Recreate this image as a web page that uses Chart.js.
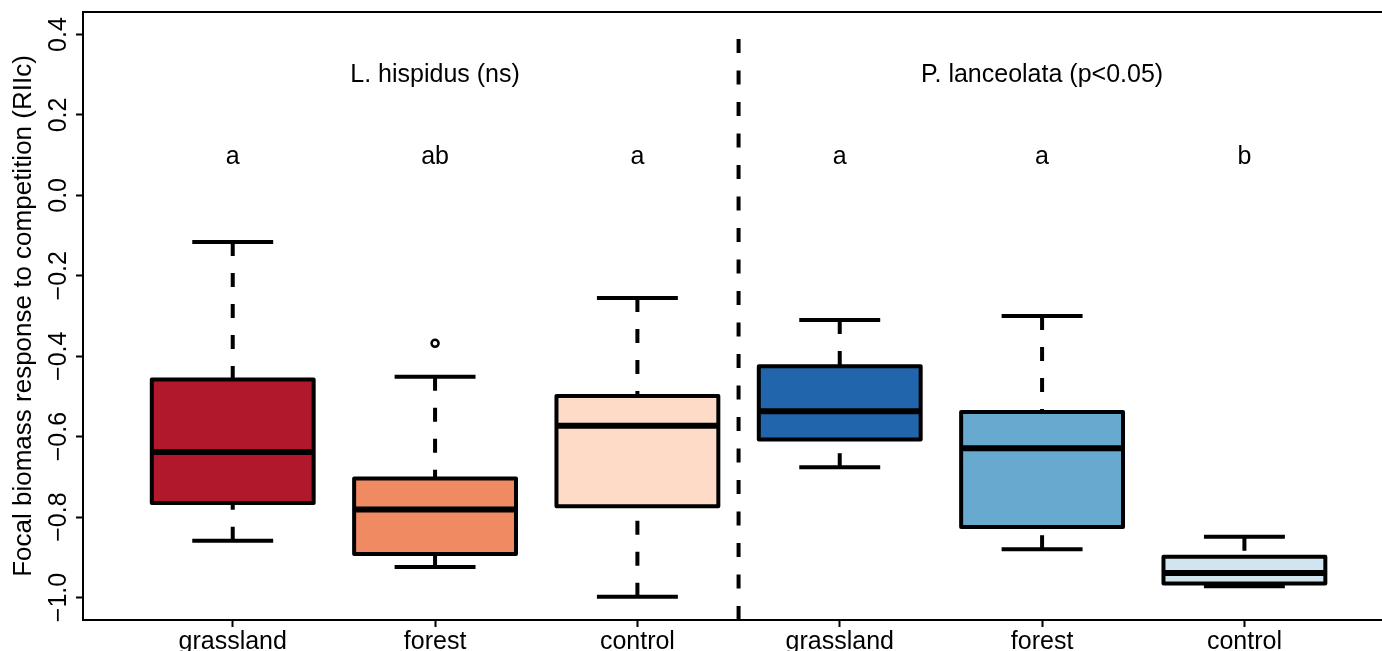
<!DOCTYPE html>
<html>
<head>
<meta charset="utf-8">
<script src="https://cdn.jsdelivr.net/npm/chart.js@4.4.1/dist/chart.umd.min.js"></script>
<style>
  html, body { margin: 0; padding: 0; background: #fff; }
  #wrap { width: 1382px; height: 651px; }
</style>
</head>
<body>
<div id="wrap"><canvas id="myChart"></canvas></div>
<script>
// box statistics, one entry per group
var categories = ["grassland", "forest", "control", "grassland", "forest", "control"];
var whiskerLow = [-0.859, -0.924, -0.998, -0.676, -0.880, -0.972];
var q1 = [-0.765, -0.892, -0.773, -0.607, -0.825, -0.965];
var medians = [-0.638, -0.781, -0.573, -0.537, -0.629, -0.939];
var q3 = [-0.458, -0.704, -0.499, -0.425, -0.539, -0.899];
var whiskerHigh = [-0.116, -0.451, -0.255, -0.310, -0.300, -0.849];
var outliers = [[], [-0.368], [], [], [], []];
var boxColors = ["#B2182B", "#EF8A62", "#FDDBC7", "#2166AC", "#67A9CF", "#D1E5F0"];

var letters = ["a", "ab", "a", "a", "a", "b"];
var letterY = 0.095;
var speciesLabels = ["L. hispidus (ns)", "P. lanceolata (p<0.05)"];
var speciesX = [2, 5];
var speciesY = 0.3;
var dividerAt = 3.5;

var yTicks = [-1.0, -0.8, -0.6, -0.4, -0.2, 0.0, 0.2, 0.4];
var xTicks = [1, 2, 3, 4, 5, 6];

var fontFamily = "'Liberation Sans', Arial, Helvetica, sans-serif";
Chart.defaults.font.family = fontFamily;
Chart.defaults.color = "#000";

function fmtTick(v) {
  return v.toFixed(1).replace("-", "\u2212");
}

// whiskers, box outlines, medians, outliers and the text annotations
var boxplotExtras = {
  id: "boxplotExtras",
  afterDatasetsDraw: function (chart) {
    var ctx = chart.ctx;
    var xs = chart.scales.x;
    var ys = chart.scales.y;
    var area = chart.chartArea;
    var bars = chart.getDatasetMeta(0).data;

    ctx.save();
    ctx.strokeStyle = "#000";
    ctx.lineCap = "butt";

    // top frame line
    ctx.lineWidth = 2;
    ctx.beginPath();
    ctx.moveTo(area.left, area.top);
    ctx.lineTo(area.right, area.top);
    ctx.stroke();

    // separator between the two species
    ctx.save();
    ctx.beginPath();
    ctx.rect(area.left, area.top, area.right - area.left, area.bottom - area.top);
    ctx.clip();
    var dx = xs.getPixelForValue(dividerAt);
    ctx.lineWidth = 4;
    ctx.setLineDash([14, 17.5]);
    ctx.beginPath();
    ctx.moveTo(dx, area.bottom);
    ctx.lineTo(dx, area.top + 16);
    ctx.stroke();
    ctx.restore();

    bars.forEach(function (bar, i) {
      var cx = bar.x;
      var half = bar.width / 2;
      var capHalf = half / 2;
      var yLo = ys.getPixelForValue(whiskerLow[i]);
      var yQ1 = ys.getPixelForValue(q1[i]);
      var yMed = ys.getPixelForValue(medians[i]);
      var yQ3 = ys.getPixelForValue(q3[i]);
      var yHi = ys.getPixelForValue(whiskerHigh[i]);

      // dashed whiskers, drawn from the ends toward the box
      ctx.lineWidth = 4;
      ctx.setLineDash([14, 17]);
      ctx.beginPath();
      ctx.moveTo(cx, yHi);
      ctx.lineTo(cx, yQ3);
      ctx.stroke();
      ctx.beginPath();
      ctx.moveTo(cx, yLo);
      ctx.lineTo(cx, yQ1);
      ctx.stroke();

      // caps
      ctx.setLineDash([]);
      ctx.beginPath();
      ctx.moveTo(cx - capHalf, yHi);
      ctx.lineTo(cx + capHalf, yHi);
      ctx.moveTo(cx - capHalf, yLo);
      ctx.lineTo(cx + capHalf, yLo);
      ctx.stroke();

      // box outline
      ctx.lineJoin = "round";
      ctx.strokeRect(cx - half, yQ3, half * 2, yQ1 - yQ3);

      // median
      ctx.lineWidth = 6;
      ctx.beginPath();
      ctx.moveTo(cx - half, yMed);
      ctx.lineTo(cx + half, yMed);
      ctx.stroke();

      // outliers
      ctx.lineWidth = 2.5;
      outliers[i].forEach(function (v) {
        ctx.beginPath();
        ctx.arc(cx, ys.getPixelForValue(v), 3.5, 0, Math.PI * 2);
        ctx.stroke();
      });
    });

    // significance letters and species headers
    ctx.fillStyle = "#000";
    ctx.font = "25px " + fontFamily;
    ctx.textAlign = "center";
    ctx.textBaseline = "middle";
    letters.forEach(function (t, i) {
      ctx.fillText(t, xs.getPixelForValue(i + 1), ys.getPixelForValue(letterY));
    });
    speciesLabels.forEach(function (t, i) {
      ctx.fillText(t, xs.getPixelForValue(speciesX[i]), ys.getPixelForValue(speciesY));
    });

    // rotated y tick labels, like R's default axis style
    ctx.textBaseline = "alphabetic";
    yTicks.forEach(function (v) {
      ctx.save();
      ctx.translate(66, ys.getPixelForValue(v));
      ctx.rotate(-Math.PI / 2);
      ctx.fillText(fmtTick(v), 0, 0);
      ctx.restore();
    });

    ctx.restore();
  },
};

var boxData = categories.map(function (c, i) {
  return { x: i + 1, y: [q1[i], q3[i]] };
});

new Chart("myChart", {
  type: "bar",
  data: {
    datasets: [
      {
        data: boxData,
        backgroundColor: boxColors,
        borderWidth: 0,
        barPercentage: 0.8,
        categoryPercentage: 1.0,
      },
    ],
  },
  options: {
    responsive: true,
    maintainAspectRatio: false,
    animation: false,
    layout: { padding: { top: 12, right: 0, bottom: 0, left: 0 } },
    plugins: {
      legend: { display: false },
      tooltip: { enabled: false },
    },
    scales: {
      x: {
        type: "linear",
        min: 0.26,
        max: 6.68,
        offset: false,
        afterBuildTicks: function (scale) {
          scale.ticks = xTicks.map(function (v) { return { value: v }; });
        },
        afterFit: function (scale) {
          scale.height = 31;
        },
        grid: {
          offset: false,
          drawOnChartArea: false,
          drawTicks: true,
          tickLength: 7,
          tickWidth: 2,
          tickColor: "#000",
        },
        border: { display: true, color: "#000", width: 2 },
        ticks: {
          autoSkip: false,
          maxRotation: 0,
          padding: 0,
          color: "#000",
          font: { size: 25 },
          callback: function (v) {
            return categories[v - 1];
          },
        },
      },
      y: {
        type: "linear",
        min: -1.056,
        max: 0.456,
        afterBuildTicks: function (scale) {
          scale.ticks = yTicks.map(function (v) { return { value: v }; });
        },
        afterFit: function (scale) {
          scale.width = 83;
        },
        grid: {
          drawOnChartArea: false,
          drawTicks: true,
          tickLength: 7,
          tickWidth: 2,
          tickColor: "#000",
        },
        border: { display: true, color: "#000", width: 2 },
        ticks: { display: false },
        title: {
          display: true,
          text: "Focal biomass response to competition (RIIc)",
          color: "#000",
          font: { size: 26 },
          padding: { top: 8, bottom: 0 },
        },
      },
    },
  },
  plugins: [boxplotExtras],
});
</script>
</body>
</html>
